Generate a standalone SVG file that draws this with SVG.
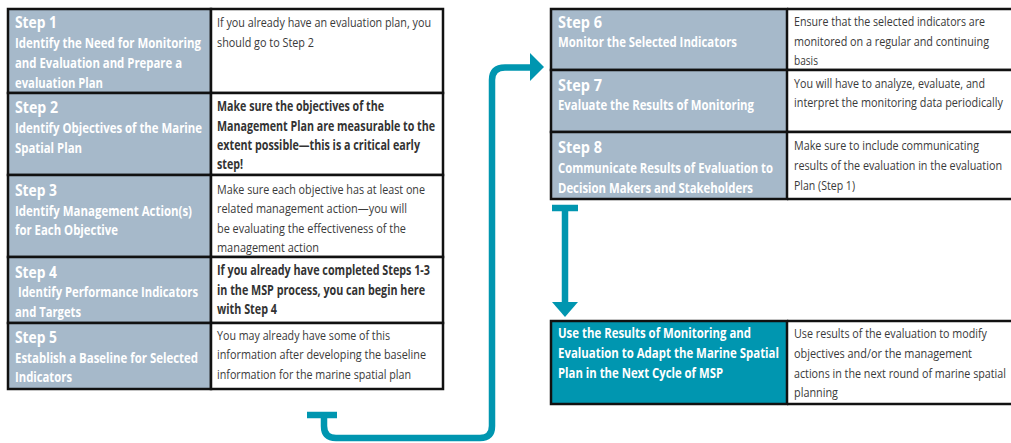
<svg xmlns="http://www.w3.org/2000/svg" width="1011" height="443" viewBox="0 0 1011 443">
<style>
.hd{fill:#A6B9CA;stroke:#111;stroke-width:2.5}
.hdt{fill:#0096B0;stroke:#111;stroke-width:2.5}
.ds{fill:#fff;stroke:#111;stroke-width:2.5}
.dsf{fill:#fff;stroke:none}
.bd{fill:none;stroke:#111;stroke-width:2.5}
text{font-family:"Open Sans","Liberation Sans",sans-serif}
.st{font-size:16px;font-weight:bold;fill:#fff}
.h{font-size:13.5px;font-weight:bold;fill:#fff}
.d{font-size:13.5px;fill:#3a3a3a}
.db{font-size:13.5px;font-weight:bold;fill:#333}
.con{fill:none;stroke:#0096B0;stroke-width:6.5}
.ah{fill:#0096B0}
</style>
<rect width="1011" height="443" fill="#fff"/>

<g id="step1">
<rect class="hd" x="8" y="9" width="203" height="84"/>
<rect class="ds" x="211" y="9" width="232" height="84"/>
<text class="st" x="15" y="28" textLength="42" lengthAdjust="spacingAndGlyphs">Step 1</text>
<text class="h" x="15" y="48" textLength="186" lengthAdjust="spacingAndGlyphs">Identify the Need for Monitoring</text>
<text class="h" x="15" y="68" textLength="167" lengthAdjust="spacingAndGlyphs">and Evaluation and Prepare a</text>
<text class="h" x="15" y="87.5" textLength="88" lengthAdjust="spacingAndGlyphs">evaluation Plan</text>
<text class="d" x="217" y="27" textLength="214" lengthAdjust="spacingAndGlyphs">If you already have an evaluation plan, you</text>
<text class="d" x="217" y="46.5" textLength="97" lengthAdjust="spacingAndGlyphs">should go to Step 2</text>
</g>

<g id="step2">
<rect class="hd" x="8" y="93" width="203" height="82"/>
<rect class="ds" x="211" y="93" width="232" height="82"/>
<text class="st" x="15" y="113" textLength="43" lengthAdjust="spacingAndGlyphs">Step 2</text>
<text class="h" x="15" y="133" textLength="187" lengthAdjust="spacingAndGlyphs">Identify Objectives of the Marine</text>
<text class="h" x="15" y="152.5" textLength="67" lengthAdjust="spacingAndGlyphs">Spatial Plan</text>
<text class="db" x="217" y="111" textLength="167" lengthAdjust="spacingAndGlyphs">Make sure the objectives of the</text>
<text class="db" x="217" y="130.5" textLength="218" lengthAdjust="spacingAndGlyphs">Management Plan are measurable to the</text>
<text class="db" x="217" y="150" textLength="203" lengthAdjust="spacingAndGlyphs">extent possible—this is a critical early</text>
<text class="db" x="217" y="169" textLength="26" lengthAdjust="spacingAndGlyphs">step!</text>
</g>

<g id="step3">
<rect class="hd" x="8" y="175" width="203" height="82"/>
<rect class="ds" x="211" y="175" width="232" height="82"/>
<text class="st" x="15" y="196" textLength="42" lengthAdjust="spacingAndGlyphs">Step 3</text>
<text class="h" x="15" y="216" textLength="177" lengthAdjust="spacingAndGlyphs">Identify Management Action(s)</text>
<text class="h" x="15" y="235" textLength="103" lengthAdjust="spacingAndGlyphs">for Each Objective</text>
<text class="d" x="217" y="193.5" textLength="208" lengthAdjust="spacingAndGlyphs">Make sure each objective has at least one</text>
<text class="d" x="217" y="213" textLength="190" lengthAdjust="spacingAndGlyphs">related management action—you will</text>
<text class="d" x="217" y="232.5" textLength="189" lengthAdjust="spacingAndGlyphs">be evaluating the effectiveness of the</text>
<text class="d" x="217" y="252" textLength="102" lengthAdjust="spacingAndGlyphs">management action</text>
</g>

<g id="step4">
<rect class="hd" x="8" y="257" width="203" height="66"/>
<rect class="ds" x="211" y="257" width="232" height="66"/>
<text class="st" x="15" y="277.5" textLength="42" lengthAdjust="spacingAndGlyphs">Step 4</text>
<text class="h" x="18" y="297" textLength="180" lengthAdjust="spacingAndGlyphs">Identify Performance Indicators</text>
<text class="h" x="15" y="316.5" textLength="66" lengthAdjust="spacingAndGlyphs">and Targets</text>
<text class="db" x="217" y="275" textLength="213" lengthAdjust="spacingAndGlyphs">If you already have completed Steps 1-3</text>
<text class="db" x="217" y="294.5" textLength="208" lengthAdjust="spacingAndGlyphs">in the MSP process, you can begin here</text>
<text class="db" x="217" y="314" textLength="60" lengthAdjust="spacingAndGlyphs">with Step 4</text>
</g>

<g id="step5">
<rect class="hd" x="8" y="323" width="203" height="66"/>
<rect class="ds" x="211" y="323" width="232" height="66"/>
<text class="st" x="15" y="343" textLength="42" lengthAdjust="spacingAndGlyphs">Step 5</text>
<text class="h" x="15" y="363" textLength="183" lengthAdjust="spacingAndGlyphs">Establish a Baseline for Selected</text>
<text class="h" x="15" y="382" textLength="57" lengthAdjust="spacingAndGlyphs">Indicators</text>
<text class="d" x="217" y="339.5" textLength="173" lengthAdjust="spacingAndGlyphs">You may already have some of this</text>
<text class="d" x="217" y="359" textLength="209" lengthAdjust="spacingAndGlyphs">information after developing the baseline</text>
<text class="d" x="217" y="378.5" textLength="194" lengthAdjust="spacingAndGlyphs">information for the marine spatial plan</text>
</g>

<g id="step6">
<rect class="dsf" x="787" y="9" width="224" height="61"/>
<path class="bd" d="M787,9 H1011 M787,70 H1011"/>
<rect class="hd" x="551" y="9" width="236" height="61"/>
<text class="st" x="558" y="27.5" textLength="44" lengthAdjust="spacingAndGlyphs">Step 6</text>
<text class="h" x="558" y="47" textLength="179" lengthAdjust="spacingAndGlyphs">Monitor the Selected Indicators</text>
<text class="d" x="794" y="26" textLength="191" lengthAdjust="spacingAndGlyphs">Ensure that the selected indicators are</text>
<text class="d" x="794" y="46" textLength="195" lengthAdjust="spacingAndGlyphs">monitored on a regular and continuing</text>
<text class="d" x="794" y="65" textLength="24" lengthAdjust="spacingAndGlyphs">basis</text>
</g>

<g id="step7">
<rect class="dsf" x="787" y="70" width="224" height="62"/>
<path class="bd" d="M787,70 H1011 M787,132 H1011"/>
<rect class="hd" x="551" y="70" width="236" height="62"/>
<text class="st" x="558" y="90.5" textLength="44" lengthAdjust="spacingAndGlyphs">Step 7</text>
<text class="h" x="558" y="110" textLength="196" lengthAdjust="spacingAndGlyphs">Evaluate the Results of Monitoring</text>
<text class="d" x="794" y="87.5" textLength="191" lengthAdjust="spacingAndGlyphs">You will have to analyze, evaluate, and</text>
<text class="d" x="794" y="107" textLength="209" lengthAdjust="spacingAndGlyphs">interpret the monitoring data periodically</text>
</g>

<g id="step8">
<rect class="dsf" x="787" y="132" width="224" height="67"/>
<path class="bd" d="M787,132 H1011 M787,199 H1011"/>
<rect class="hd" x="551" y="132" width="236" height="67"/>
<text class="st" x="558" y="152.5" textLength="44" lengthAdjust="spacingAndGlyphs">Step 8</text>
<text class="h" x="558" y="172.5" textLength="215" lengthAdjust="spacingAndGlyphs">Communicate Results of Evaluation to</text>
<text class="h" x="558" y="192.5" textLength="195" lengthAdjust="spacingAndGlyphs">Decision Makers and Stakeholders</text>
<text class="d" x="794" y="150" textLength="185" lengthAdjust="spacingAndGlyphs">Make sure to include communicating</text>
<text class="d" x="794" y="170" textLength="208" lengthAdjust="spacingAndGlyphs">results of the evaluation in the evaluation</text>
<text class="d" x="794" y="189.5" textLength="61" lengthAdjust="spacingAndGlyphs">Plan (Step 1)</text>
</g>

<g id="adapt">
<rect class="dsf" x="787" y="321" width="224" height="83"/>
<path class="bd" d="M787,321 H1011 M787,404 H1011"/>
<rect class="hdt" x="551" y="321" width="236" height="83"/>
<text class="h" x="558" y="338" textLength="193" lengthAdjust="spacingAndGlyphs">Use the Results of Monitoring and</text>
<text class="h" x="558" y="358" textLength="221" lengthAdjust="spacingAndGlyphs">Evaluation to Adapt the Marine Spatial</text>
<text class="h" x="558" y="377.5" textLength="165" lengthAdjust="spacingAndGlyphs">Plan in the Next Cycle of MSP</text>
<text class="d" x="794" y="338" textLength="193" lengthAdjust="spacingAndGlyphs">Use results of the evaluation to modify</text>
<text class="d" x="794" y="358" textLength="178" lengthAdjust="spacingAndGlyphs">objectives and/or the management</text>
<text class="d" x="794" y="377.5" textLength="212" lengthAdjust="spacingAndGlyphs">actions in the next round of marine spatial</text>
<text class="d" x="794" y="397" textLength="44" lengthAdjust="spacingAndGlyphs">planning</text>
</g>

<g id="connectors">
<line class="con" x1="307" y1="415" x2="337" y2="415"/>
<path class="con" d="M324,415 V426 Q324,438 336,438 H480 Q492,438 492,426 V80 Q492,67.5 505,67.5 H531"/>
<polygon class="ah" points="530,53 544,67 530,81"/>
<line class="con" x1="552" y1="208" x2="578" y2="208"/>
<line class="con" x1="565" y1="208" x2="565" y2="303"/>
<polygon class="ah" points="552,302 578,302 565,317"/>
</g>
</svg>
